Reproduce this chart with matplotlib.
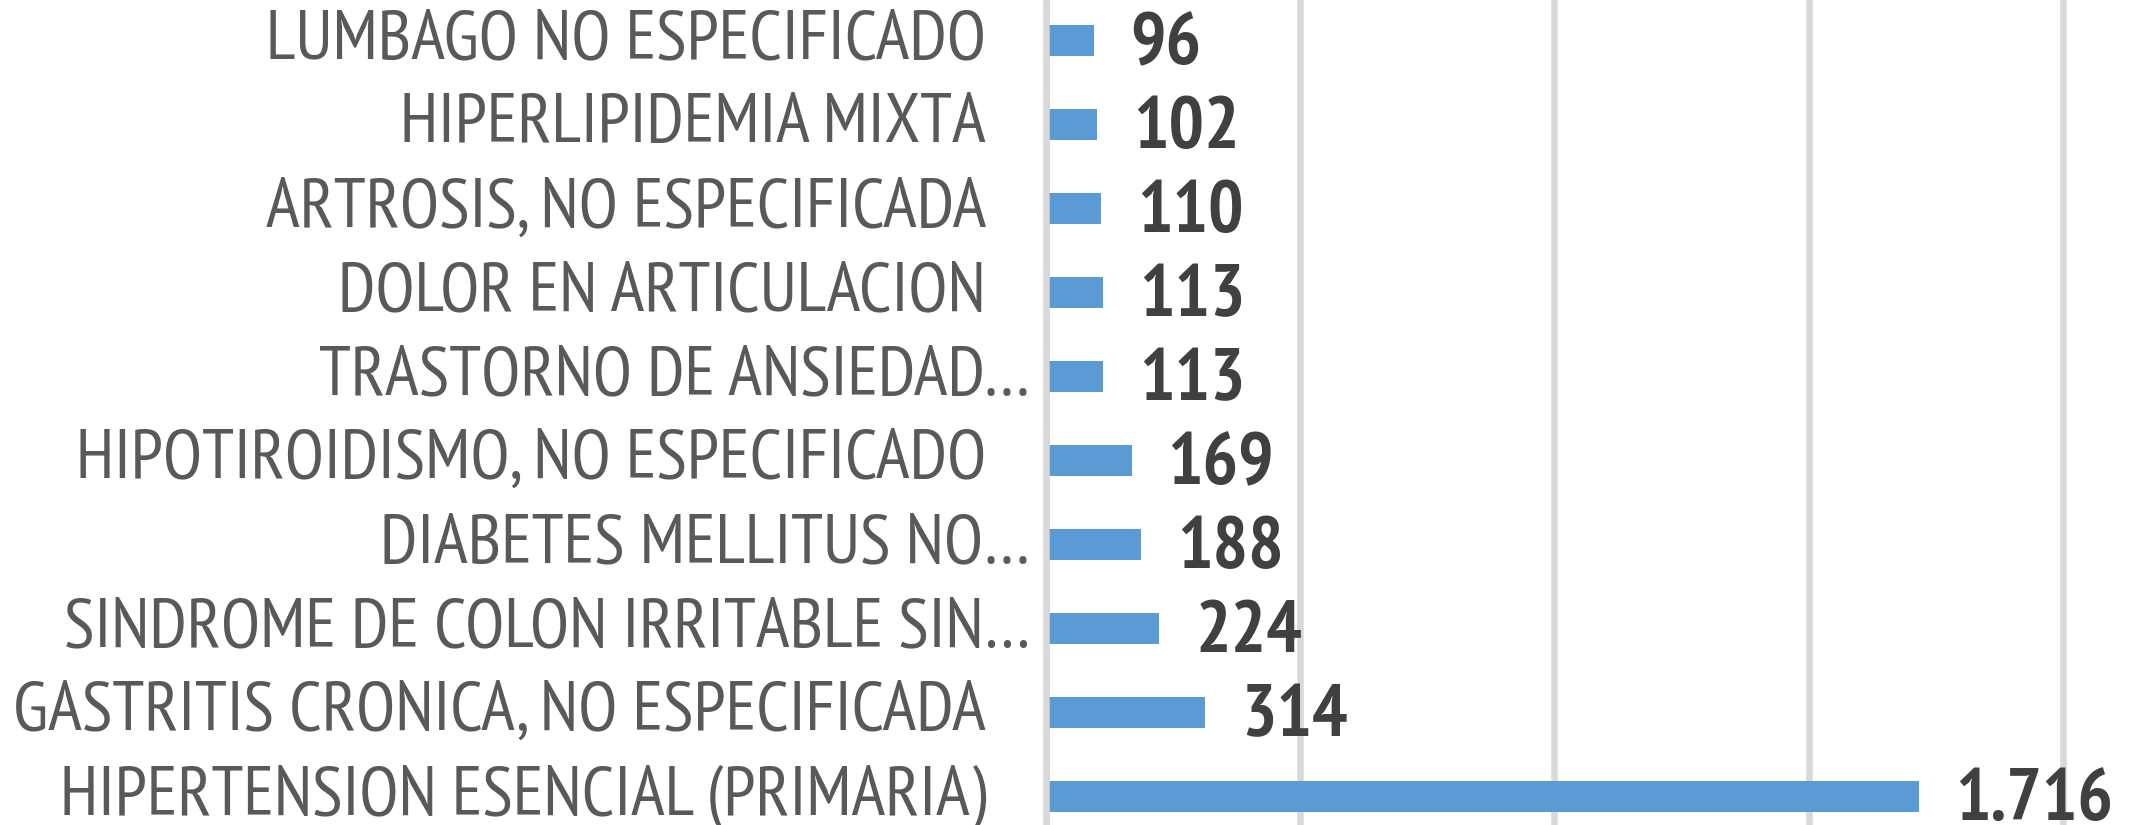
import matplotlib
matplotlib.use('Agg')
from matplotlib import pyplot as plt
from matplotlib import font_manager

# categories from bottom to top, as drawn on the axis
CATEGORIES = [
    'HIPERTENSION ESENCIAL (PRIMARIA)',
    'GASTRITIS CRONICA, NO ESPECIFICADA',
    'SINDROME DE COLON IRRITABLE SIN…',
    'DIABETES MELLITUS NO…',
    'HIPOTIROIDISMO, NO ESPECIFICADO',
    'TRASTORNO DE ANSIEDAD…',
    'DOLOR EN ARTICULACION',
    'ARTROSIS, NO ESPECIFICADA',
    'HIPERLIPIDEMIA MIXTA',
    'LUMBAGO NO ESPECIFICADO',
]
VALUES = [1716, 314, 224, 188, 169, 113, 113, 110, 102, 96]
GRID_TICKS = [0, 500, 1000, 1500, 2000]

BAR_COLOR = '#5b9bd5'
GRID_COLOR = '#d9d9d9'
LABEL_COLOR = '#595959'
VALUE_COLOR = '#404040'

installed = {f.name for f in font_manager.fontManager.ttflist}
candidates = ['PT Sans Narrow', 'Open Sans Condensed', 'Archivo Narrow',
              'Roboto Condensed', 'Carlito', 'Liberation Sans']
FONT = [c for c in candidates if c in installed][:1] + ['DejaVu Sans']
plt.rcParams['font.family'] = FONT


def fmt(v):
    return '{:,}'.format(v).replace(',', '.')


fig = plt.figure(figsize=(21.33, 8.25), dpi=100)
ax = fig.add_axes([1045.5 / 2133, 0, 1 - 1045.5 / 2133, 1])

y = list(range(len(CATEGORIES)))
ax.barh(y, VALUES, height=0.37, color=BAR_COLOR, zorder=2)

ax.set_xlim(0, 2137)
ax.set_ylim(-0.345, 9.482)
ax.set_xticks(GRID_TICKS)
ax.set_yticks([])
ax.tick_params(axis='x', length=0, labelbottom=False)
ax.grid(axis='x', color=GRID_COLOR, linewidth=4.7, zorder=0)
ax.set_axisbelow(True)
for side in ('top', 'right', 'bottom'):
    ax.spines[side].set_visible(False)
ax.spines['left'].set_color(GRID_COLOR)
ax.spines['left'].set_linewidth(4.7)
ax.spines['left'].set_zorder(3)

names, nums = [], []
for i, (name, v) in enumerate(zip(CATEGORIES, VALUES)):
    dx = -15.5 if name.endswith('…') else -59.5
    names.append(ax.annotate(name, xy=(0, i), xytext=(dx, -18), textcoords='offset pixels',
                             ha='right', va='baseline', fontsize=40, color=LABEL_COLOR,
                             annotation_clip=False))
    nums.append(ax.annotate(fmt(v), xy=(v, i), xytext=(36, -24), textcoords='offset pixels',
                            ha='left', va='baseline', fontsize=46, fontweight='bold',
                            color=VALUE_COLOR, annotation_clip=False))

# fit font sizes to the widths seen in the reference
fig.canvas.draw()
r = fig.canvas.get_renderer()
w_short = names[-1].get_window_extent(r).width     # LUMBAGO NO ESPECIFICADO, ~724 px
w_long = names[0].get_window_extent(r).width       # HIPERTENSION ESENCIAL (PRIMARIA), ~915 px
w_num = nums[0].get_window_extent(r).width         # 1.716, ~158 px
scale = (724 / w_short + 915 / w_long) / 2
for t in names:
    t.set_fontsize(40 * scale)
for t in nums:
    t.set_fontsize(46 * 158 / w_num)

fig.savefig('out.png', dpi=100)
